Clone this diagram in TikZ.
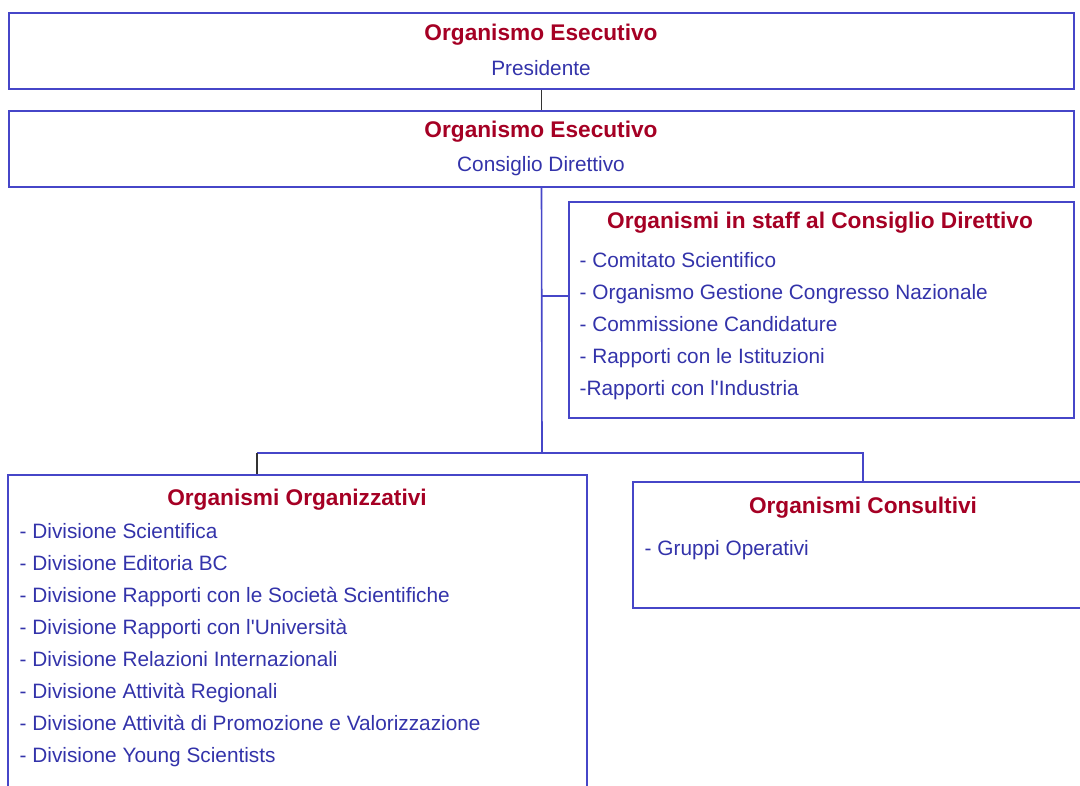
\documentclass[tikz,border=0pt]{standalone}
\usepackage{fontspec}
\setmainfont{Liberation Sans}
\usetikzlibrary{fit}

\definecolor{titlered}{RGB}{165,0,36}
\definecolor{itemblue}{RGB}{51,51,170}
\definecolor{lineblue}{RGB}{70,70,200}

\begin{document}
\begin{tikzpicture}[x=0.75pt,y=-0.75pt]

      \useasboundingbox (0,0) rectangle (1080,785);
      \clip (0,0) rectangle (1080,785);

      % boxes
      \begin{scope}[every node/.style={draw=lineblue,line width=1.2pt,inner sep=0pt}]
        \node[fit={(9,13) (1074,89)}] (pres) {};
        \node[fit={(9,111) (1074,187)}] (cons) {};
        \node[fit={(569,202) (1074,418)}] (staff) {};
        \node[fit={(8,475) (587,800)}] (org) {};
        \node[fit={(633,482) (1086,608)}] (cnsl) {};
      \end{scope}

      % titles
      \begin{scope}[every node/.style={text=titlered,text height=12pt,text depth=3.5pt,
          yshift=-2.2pt,font=\bfseries\fontsize{17}{19}\selectfont}]
        \node (t1) at (541,32) {Organismo Esecutivo};
        \node (t2) at (541,129) {Organismo Esecutivo};
        \node (t3) at (820,220) {Organismi in staff al Consiglio Direttivo};
        \node (t4) at (297,497) {Organismi Organizzativi};
        \node (t5) at (863,505) {Organismi Consultivi};
      \end{scope}

      % entries
      \begin{scope}[every node/.style={text=itemblue,text height=11pt,text depth=3pt,
          yshift=-1.6pt,font=\fontsize{15.6}{18}\selectfont}]
        \node (p1) at (541,68) {Presidente};
        \node (c1) at (541,164) {Consiglio Direttivo};

        \node[anchor=west] (s1) at (575,260) {- Comitato Scientifico};
        \node[anchor=west] (s2) at (575,292) {- Organismo Gestione Congresso Nazionale};
        \node[anchor=west] (s3) at (575,324) {- Commissione Candidature};
        \node[anchor=west] (s4) at (575,356) {- Rapporti con le Istituzioni};
        \node[anchor=west] (s5) at (575,388) {-Rapporti con l\textquotesingle Industria};

        \node[anchor=west] (o1) at (15,531) {- Divisione Scientifica};
        \node[anchor=west] (o2) at (15,563) {- Divisione Editoria BC};
        \node[anchor=west] (o3) at (15,595) {- Divisione Rapporti con le Società Scientifiche};
        \node[anchor=west] (o4) at (15,627) {- Divisione Rapporti con l\textquotesingle Università};
        \node[anchor=west] (o5) at (15,659) {- Divisione Relazioni Internazionali};
        \node[anchor=west] (o6) at (15,691) {- Divisione Attività Regionali};
        \node[anchor=west] (o7) at (15,723) {- Divisione Attività di Promozione e Valorizzazione};
        \node[anchor=west] (o8) at (15,755) {- Divisione Young Scientists};

        \node[anchor=west] (g1) at (640,548) {- Gruppi Operativi};
      \end{scope}

      % connectors
      \coordinate (tap) at (542,296);
      \coordinate (split) at (542,453);
      \coordinate (jl) at (257,453);
      \coordinate (jr) at (863,453);

      \draw[line width=1pt,black!80] (pres.south) -- (cons.north);
      \draw[line width=1.2pt,lineblue] (cons.south) -- (split);
      \draw[line width=1.2pt,lineblue] (tap) -- (tap -| staff.west);
      \draw[line width=1.2pt,lineblue] (jl) -- (jr) -- (jr |- cnsl.north);
      \draw[line width=1pt,black!80] (jl) -- (jl |- org.north);

    \end{tikzpicture}
\end{document}
